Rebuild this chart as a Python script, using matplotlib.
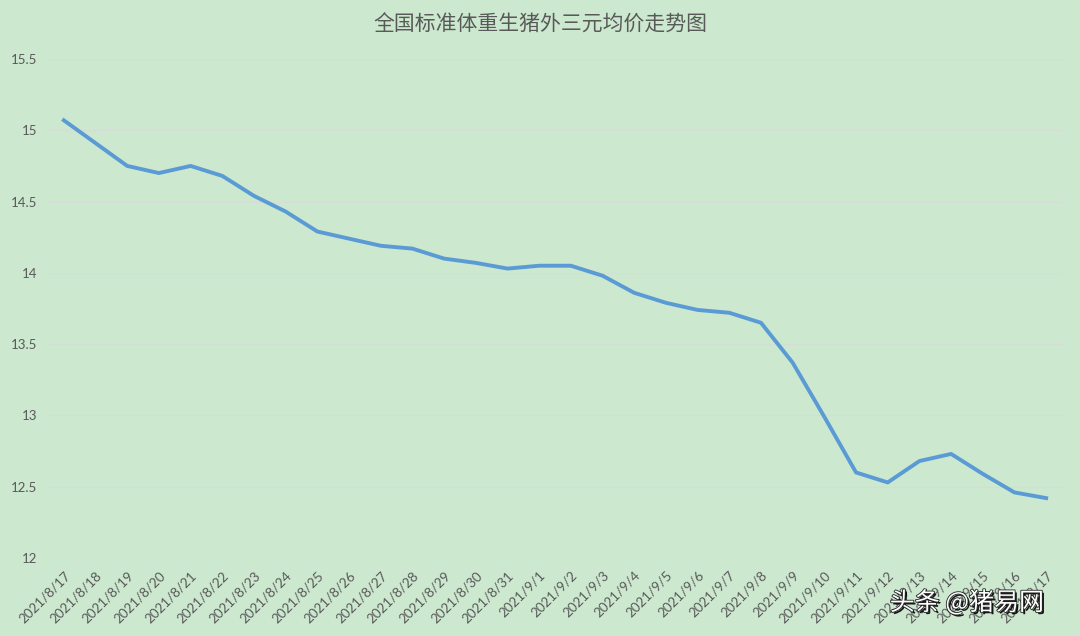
import matplotlib
matplotlib.use("Agg")
import matplotlib.pyplot as plt
import matplotlib.patheffects as pe

# ---------------------------------------------------------------------------
# Datos
# ---------------------------------------------------------------------------

dates = ["2021/8/17", "2021/8/18", "2021/8/19", "2021/8/20", "2021/8/21",
         "2021/8/22", "2021/8/23", "2021/8/24", "2021/8/25", "2021/8/26",
         "2021/8/27", "2021/8/28", "2021/8/29", "2021/8/30", "2021/8/31",
         "2021/9/1", "2021/9/2", "2021/9/3", "2021/9/4", "2021/9/5",
         "2021/9/6", "2021/9/7", "2021/9/8", "2021/9/9", "2021/9/10",
         "2021/9/11", "2021/9/12", "2021/9/13", "2021/9/14", "2021/9/15",
         "2021/9/16", "2021/9/17"]
prices = [15.07, 14.91, 14.75, 14.70, 14.75, 14.68, 14.54, 14.43, 14.29, 14.24,
          14.19, 14.17, 14.10, 14.07, 14.03, 14.05, 14.05, 13.98, 13.86, 13.79,
          13.74, 13.72, 13.65, 13.37, 12.99, 12.60, 12.53, 12.68, 12.73, 12.59,
          12.46, 12.42]
y_ticks = [12, 12.5, 13, 13.5, 14, 14.5, 15, 15.5]
y_tick_labels = ["12", "12.5", "13", "13.5", "14", "14.5", "15", "15.5"]
title = "全国标准体重生猪外三元均价走势图"
watermark = "头条 @猪易网"

BG = "#cce8cf"
TXT = "#595959"
LINE = "#5b9bd5"

plt.rcParams["font.family"] = ["Lato", "Noto Sans CJK SC", "DejaVu Sans"]

fig = plt.figure(figsize=(10.8, 6.36), dpi=100, facecolor=BG)
ax = fig.add_axes([48 / 1080, 78 / 636, (1062 - 48) / 1080, (558 - 59) / 636])
ax.set_facecolor(BG)

x = list(range(len(dates)))
ax.plot(x, prices, color=LINE, linewidth=2.8, solid_joinstyle="round")

ax.set_xlim(-0.5, len(dates) - 0.5)
ax.set_ylim(12, 15.5)
ax.set_yticks(y_ticks)
ax.set_yticklabels(y_tick_labels)
ax.set_xticks(x)
ax.set_xticklabels(dates, rotation=45, ha="right", rotation_mode="anchor")

ax.grid(True, axis="y", color="#d6ddd6", linewidth=0.9)
ax.set_axisbelow(True)
for sp in ax.spines.values():
    sp.set_visible(False)
ax.tick_params(axis="both", length=0, colors=TXT, labelsize=9.5)
ax.tick_params(axis="x", labelsize=9.7, pad=8)
ax.tick_params(axis="y", pad=8)

fig.text(0.5, 1 - 25 / 636, title, ha="center", va="center", color=TXT,
         fontsize=15, family=["Noto Sans CJK SC", "DejaVu Sans"])

fig.text(1044 / 1080, 1 - 603 / 636, watermark, ha="right", va="center",
         color="white", fontsize=18, family=["Noto Sans CJK SC", "DejaVu Sans"],
         path_effects=[pe.withSimplePatchShadow(offset=(1.5, -1.5), shadow_rgbFace="black", alpha=0.9),
                       pe.Stroke(linewidth=1.2, foreground="#222"), pe.Normal()])

fig.savefig("out.png", dpi=100, facecolor=fig.get_facecolor())
